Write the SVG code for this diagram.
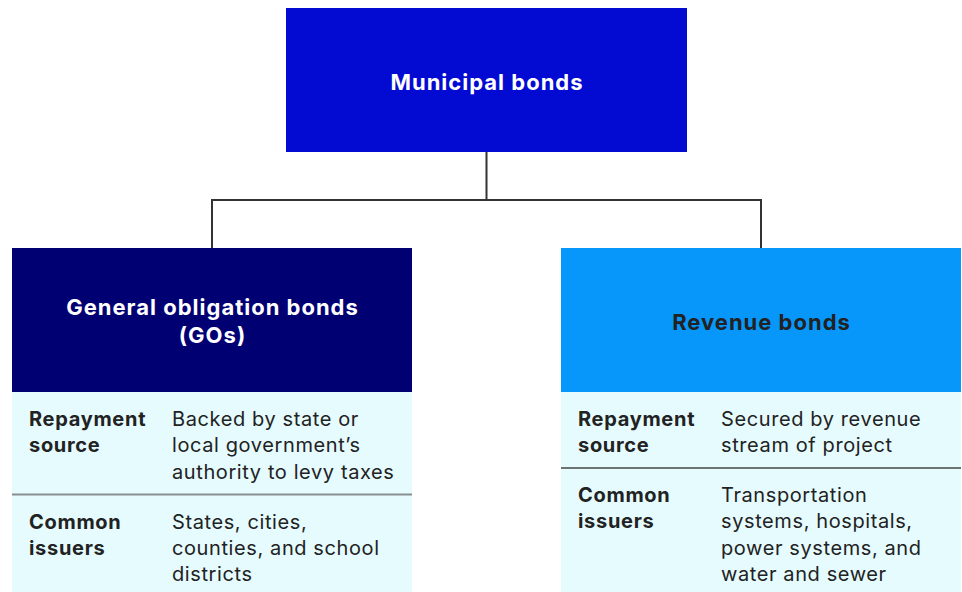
<svg xmlns="http://www.w3.org/2000/svg" width="962" height="592" viewBox="0 0 962 592">
<style>
.t{font-family:Inter,"Liberation Sans",Arial,sans-serif;}
.title{font-size:22px;font-weight:700;text-anchor:middle;letter-spacing:1px;}
.lab{font-size:20px;font-weight:700;fill:#222;letter-spacing:0.7px;}
.body{font-size:20px;font-weight:400;fill:#222;letter-spacing:0.6px;}
.conn{stroke:#333;stroke-width:2;fill:none;}
</style>
<rect width="962" height="592" fill="#fff"/>
<g id="connectors">
<path class="conn" d="M486.5 152 V200 M211 200 H761 M212 199 V248 M761 199 V248"/>
</g>
<g id="municipal">
<rect x="286" y="8" width="401" height="144" fill="#030AD1"/>
<text class="t title" x="487" y="90" fill="#fff">Municipal bonds</text>
</g>
<g id="go">
<rect x="12" y="248" width="400" height="144" fill="#000073"/>
<text class="t title" x="212.5" y="315" fill="#fff">General obligation bonds</text>
<text class="t title" x="212.5" y="343" fill="#fff">(GOs)</text>
</g>
<g id="go-table">
<rect x="12" y="392" width="400" height="200" fill="#E5FBFE"/>
<line x1="12" y1="494.5" x2="412" y2="494.5" stroke="#8A8F91" stroke-width="2"/>
<text class="t lab" x="29" y="426">Repayment</text>
<text class="t lab" x="29" y="452">source</text>
<text class="t body" x="172" y="426">Backed by state or</text>
<text class="t body" x="172" y="452">local government’s</text>
<text class="t body" x="172" y="479">authority to levy taxes</text>
<text class="t lab" x="29" y="529">Common</text>
<text class="t lab" x="29" y="555">issuers</text>
<text class="t body" x="172" y="529">States, cities,</text>
<text class="t body" x="172" y="555">counties, and school</text>
<text class="t body" x="172" y="581">districts</text>
</g>
<g id="revenue">
<rect x="561" y="248" width="400" height="144" fill="#0797FB"/>
<text class="t title" x="761.5" y="330" fill="#222">Revenue bonds</text>
</g>
<g id="revenue-table">
<rect x="561" y="392" width="400" height="200" fill="#E5FBFE"/>
<line x1="561" y1="468" x2="961" y2="468" stroke="#444" stroke-width="1.5"/>
<text class="t lab" x="578" y="426">Repayment</text>
<text class="t lab" x="578" y="452">source</text>
<text class="t body" x="721" y="426">Secured by revenue</text>
<text class="t body" x="721" y="452">stream of project</text>
<text class="t lab" x="578" y="502">Common</text>
<text class="t lab" x="578" y="528">issuers</text>
<text class="t body" x="721" y="502">Transportation</text>
<text class="t body" x="721" y="528">systems, hospitals,</text>
<text class="t body" x="721" y="555">power systems, and</text>
<text class="t body" x="721" y="581">water and sewer</text>
</g>
</svg>
